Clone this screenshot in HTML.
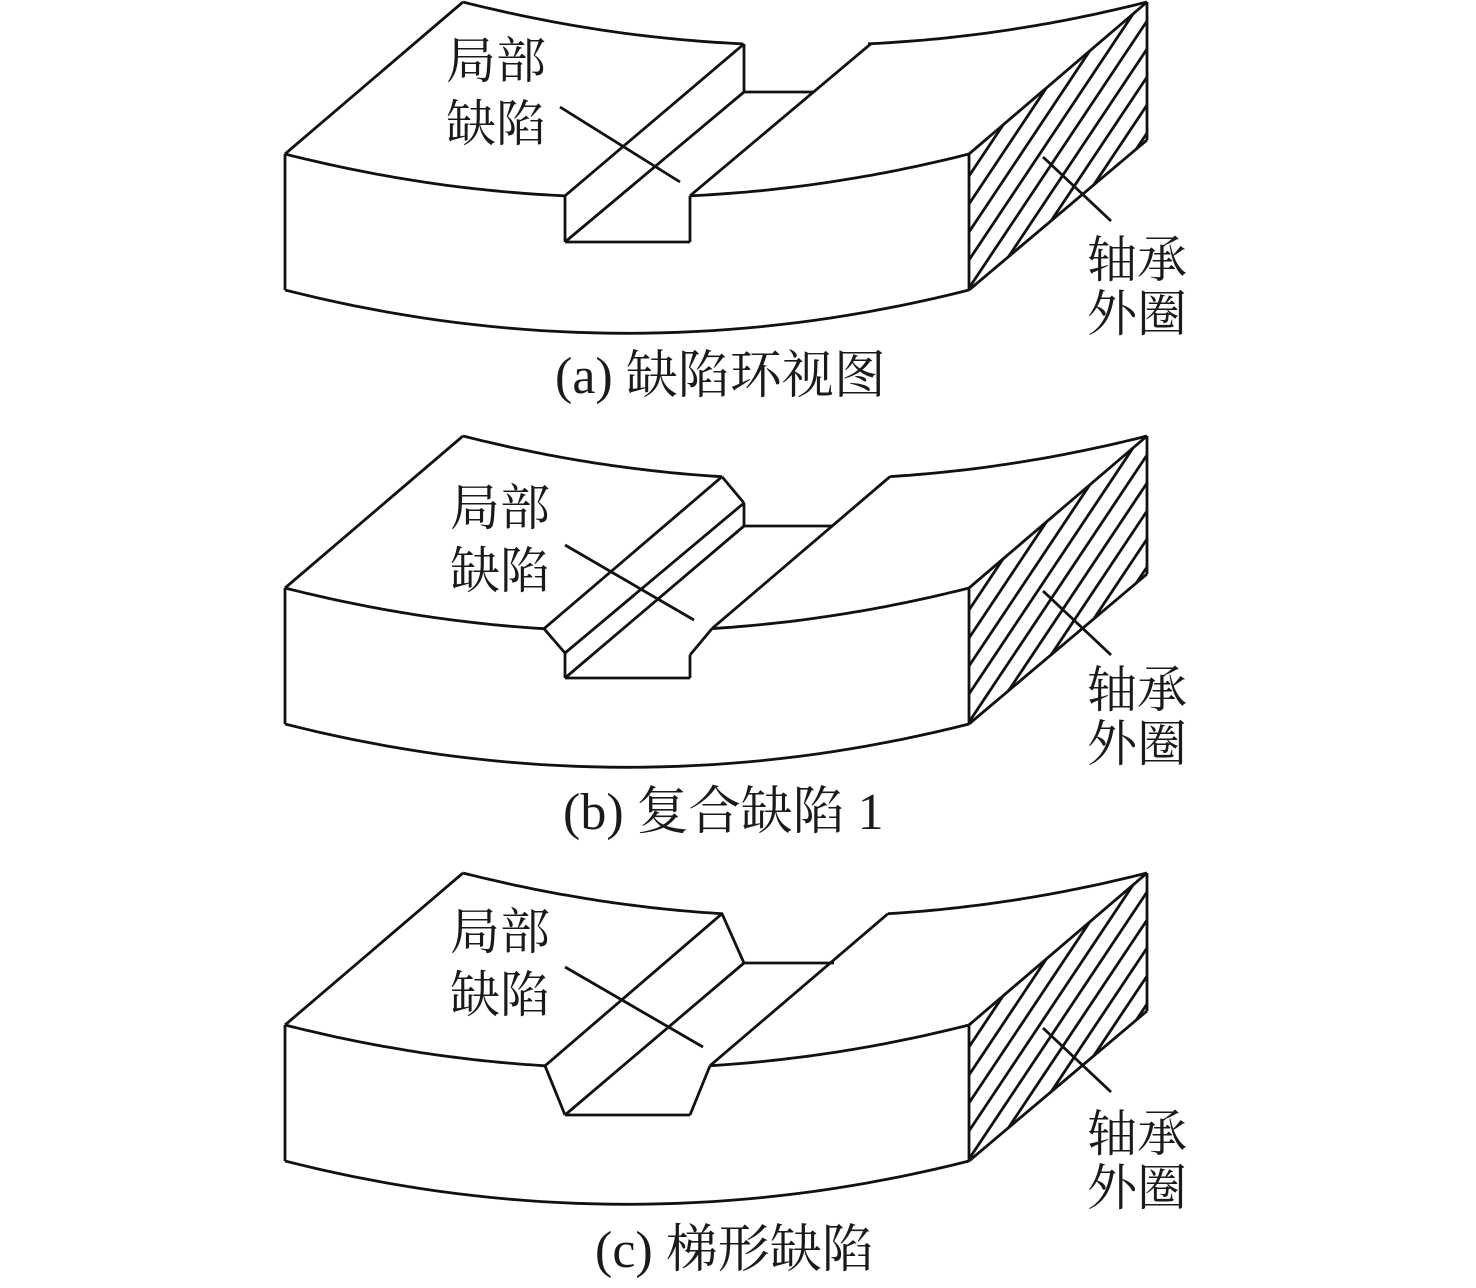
<!DOCTYPE html>
<html><head><meta charset="utf-8">
<style>
html,body{margin:0;padding:0;background:#fff;width:1476px;height:1288px;overflow:hidden;}
svg{display:block;}
text{font-family:"Liberation Serif","Noto Serif CJK SC","Noto Sans CJK SC",serif;fill:#1a1a1a;}
</style></head>
<body>
<svg id="s" width="1476" height="1288" viewBox="0 0 1476 1288" xmlns="http://www.w3.org/2000/svg" style="overflow:hidden">
<g id="g" fill="none" stroke="#111" stroke-width="2.8" stroke-linejoin="miter"></g>
<g font-size="50">
<text x="446" y="78">局部</text>
<text x="446" y="141">缺陷</text>
<text x="1087" y="277">轴承</text>
<text x="1087" y="331">外圈</text>
<text x="555" y="393" font-size="52">(a) 缺陷环视图</text>

<text x="450" y="525">局部</text>
<text x="450" y="588">缺陷</text>
<text x="1087" y="707">轴承</text>
<text x="1087" y="761">外圈</text>
<text x="563" y="829" font-size="52">(b) 复合缺陷 1</text>

<text x="450" y="949">局部</text>
<text x="450" y="1012">缺陷</text>
<text x="1087" y="1151">轴承</text>
<text x="1087" y="1205">外圈</text>
<text x="595" y="1267" font-size="52">(c) 梯形缺陷</text>
</g>
</svg>
<script>
var g=document.getElementById('g');var NS='http://www.w3.org/2000/svg';
var k=3.7e-4;
function el(n,a){var e=document.createElementNS(NS,n);for(var i in a)e.setAttribute(i,a[i]);g.appendChild(e);return e;}
function line(a,b,c,d){el('line',{x1:a,y1:b,x2:c,y2:d});}
function arcPts(y0,x1,x2,dx,dy){var p=[];for(var x=x1;x<=x2+0.01;x+=(x2-x1)/40){var xx=x-dx;p.push([x,y0+k*(xx-285)*(969-xx)+dy]);}return p;}
function f(y0,x){return y0+k*(x-285)*(969-x);}
function gb(y0,x){return f(y0,x-178)-152;}
function poly(pts){el('polyline',{points:pts.map(function(p){return p[0].toFixed(1)+','+p[1].toFixed(1)}).join(' ')});}
function common(y0,frontL,frontR){
  poly(arcPts(y0,285,frontL,0,0));
  poly(arcPts(y0,frontR,969,0,0));
  poly(arcPts(y0,463,frontL+178,178,-152));
  poly(arcPts(y0,frontR+178,1147,178,-152));
  poly(arcPts(y0+136,285,969,0,0));
  line(285,y0,285,y0+136);
  line(285,y0,463,y0-152);
  line(969,y0,969,y0+136);
  line(969,y0,1147,y0-152);
  line(1147,y0-152,1147,y0-14);
  line(1147,y0-14,969,y0+136);
  var id='c'+y0;
  var cp=document.createElementNS(NS,'clipPath');cp.setAttribute('id',id);
  var pg=document.createElementNS(NS,'polygon');pg.setAttribute('points','969,'+y0+' 1147,'+(y0-152)+' 1147,'+(y0-14)+' 969,'+(y0+136));
  cp.appendChild(pg);g.appendChild(cp);
  var hg=document.createElementNS(NS,'g');hg.setAttribute('clip-path','url(#'+id+')');g.appendChild(hg);
  var s=1.5;
  for(var c=y0+969*s+22;c<y0+136+969*s+178*s+10;c+=28){
    var l=document.createElementNS(NS,'line');
    l.setAttribute('x1',940);l.setAttribute('y1',c-940*s);l.setAttribute('x2',1180);l.setAttribute('y2',c-1180*s);
    hg.appendChild(l);
  }
  line(1043,y0+3,1111,y0+67);
}
var y0=154;
common(y0,565,690);
line(565,f(y0,565),565,y0+88);line(565,y0+88,690,y0+88);line(690,y0+88,690,f(y0,690));
line(744,gb(y0,744),744,y0-62);line(744,y0-62,814,y0-62);
line(565,f(y0,565),744,gb(y0,744));line(565,y0+88,744,y0-62);line(690,f(y0,690),871,gb(y0,871));
line(560,107,680,182);
y0=588;
common(y0,544,712);
line(544,f(y0,544),565,y0+65);line(565,y0+65,565,y0+90);line(565,y0+90,690,y0+90);line(690,y0+90,690,y0+67);line(690,y0+67,712,f(y0,712));
line(722,gb(y0,722),744,y0-85);line(744,y0-85,744,y0-62);line(744,y0-62,833,y0-62);
line(544,f(y0,544),722,gb(y0,722));line(565,y0+65,744,y0-85);line(565,y0+90,744,y0-62);line(712,f(y0,712),890,gb(y0,890));
line(565,545,694,620);
y0=1025;
common(y0,545,710);
line(545,f(y0,545),565,y0+90);line(565,y0+90,690,y0+90);line(690,y0+90,710,f(y0,710));
line(722,gb(y0,722),744,y0-62);line(744,y0-62,834,y0-62);
line(545,f(y0,545),722,gb(y0,722));line(565,y0+90,744,y0-62);line(710,f(y0,710),888,gb(y0,888));
line(565,967,703,1047);
</script>
</body></html>
